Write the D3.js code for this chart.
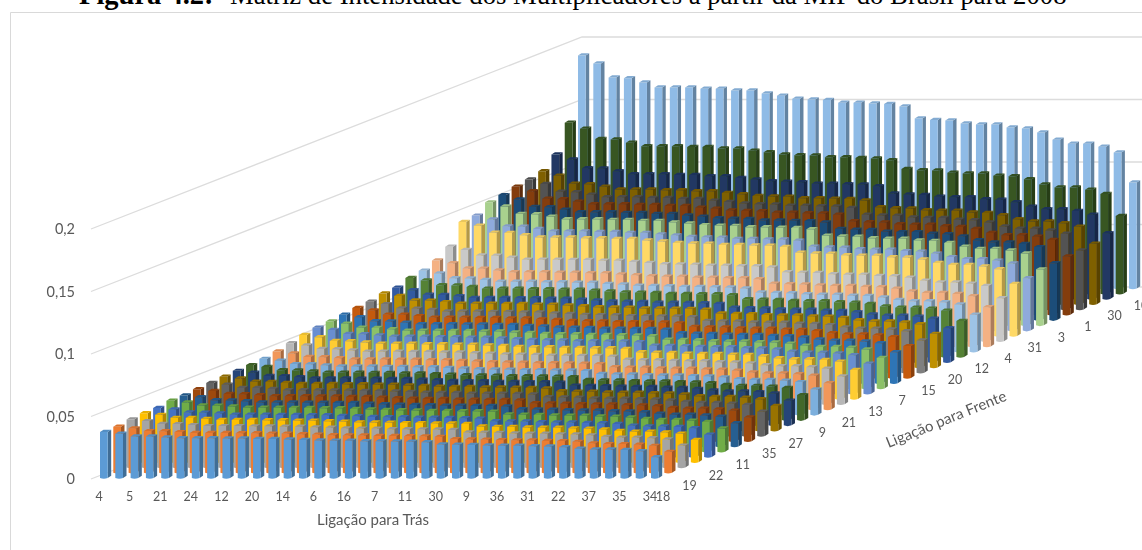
<!DOCTYPE html>
<html>
<head>
<meta charset="utf-8">
<style>
  html, body { margin: 0; padding: 0; background: #fff; overflow: hidden; }
  text { font-family: Lato, "Open Sans", sans-serif; fill: #595959; }
</style>
</head>
<body>
<script src="https://cdnjs.cloudflare.com/ajax/libs/d3/7.8.5/d3.min.js"></script>
<script>
const WIDTH = 1142;
const HEIGHT = 550;

// eixo de trás: so uma em cada duas categorias tem rotulo no grafico
const categoryLabels = ["4","","5","","21","","24","","12","","20","","14","","6","","16","","7","","11","","30","","9","","36","","31","","22","","37","","35","","34"];
const seriesLabels = ["18","","19","","22","","11","","35","","27","","9","","21","","13","","7","","15","","20","","12","","4","","31","","3","","1","","30","","10"];
const yTicks = [0, 500, 1000, 1500, 2000];
const yTickLabels = ["0", "0,05", "0,1", "0,15", "0,2"];

// cor de cada serie, da frente para o fundo
const seriesColors = ["#5b9bd5","#ed7d31","#a5a5a5","#ffc000","#4472c4","#70ad47",
  "#255e91","#9e480e","#636363","#997300","#264478","#43682b",
  "#7cafdd","#f1975a","#b7b7b7","#ffcd33","#698ed0","#8cc168",
  "#2e75b6","#c55a11","#7f7f7f","#bf9000","#335aa1","#548235",
  "#9dc3e6","#f4b183","#c9c9c9","#ffd966","#8faadc","#a9d18e",
  "#1f4e79","#843c0c","#525252","#7f6000","#203864","#385723","#8fbbe6"];

// valores, em decimos de milesimo (368 = 0,0368)
const serie00 = [368,355,333,332,325,318,318,318,316,316,313,313,308,305,300,298,298,294,294,292,291,287,269,266,265,261,259,259,254,253,247,235,229,229,224,215,167];
const serie01 = [368,355,333,332,325,318,318,318,316,316,313,313,308,305,300,298,298,294,294,292,291,287,269,266,265,261,259,259,254,253,247,235,229,229,224,215,167];
const serie02 = [384,371,348,347,339,331,331,331,329,329,326,326,321,318,313,311,311,306,306,305,304,300,280,278,277,272,270,270,265,264,257,245,239,239,234,224,175];
const serie03 = [392,379,355,354,347,338,338,338,336,336,333,333,328,325,319,318,317,313,313,311,310,306,286,283,283,278,276,276,271,269,263,250,244,244,239,229,178];
const serie04 = [392,379,355,354,347,338,338,338,336,336,333,333,328,325,319,318,317,313,313,311,310,306,286,283,283,278,276,276,271,269,263,250,244,244,239,229,178];
const serie05 = [408,394,370,368,361,352,352,352,350,350,347,347,341,338,333,331,330,326,326,324,323,319,298,295,294,289,287,287,282,280,273,261,254,254,248,238,186];
const serie06 = [408,394,370,368,361,352,352,352,350,350,347,347,341,338,333,331,330,326,326,324,323,319,298,295,294,289,287,287,282,280,273,261,254,254,248,238,186];
const serie07 = [416,402,377,376,368,359,359,359,357,357,354,354,348,344,339,337,337,332,332,330,329,325,304,301,300,295,293,293,287,286,279,266,259,259,253,243,189];
const serie08 = [424,410,384,383,375,366,366,366,364,364,360,360,355,351,346,344,343,338,338,337,336,331,310,307,306,300,298,298,293,291,284,271,264,264,258,248,193];
const serie09 = [432,417,391,390,382,373,373,373,371,371,367,367,362,358,352,350,349,345,345,343,342,337,315,312,311,306,304,304,299,297,289,276,269,269,263,252,197];
const serie10 = [436,421,395,394,385,376,376,376,374,374,371,371,365,361,355,354,353,348,348,346,345,341,318,315,314,309,307,307,301,300,292,279,271,271,266,255,198];
const serie11 = [440,425,399,397,389,380,380,380,378,378,374,374,368,364,359,357,356,351,351,349,348,344,321,318,317,312,310,310,304,302,295,281,274,274,268,257,200];
const serie12 = [448,433,406,405,396,387,387,387,384,384,381,381,375,371,365,363,362,358,358,356,355,350,327,324,323,317,315,315,310,308,300,286,279,279,273,262,204];
const serie13 = [464,448,420,419,410,400,400,400,398,398,394,394,388,384,378,376,375,370,370,368,367,362,339,335,335,329,327,327,321,319,311,296,289,289,283,271,211];
const serie14 = [488,471,442,441,431,421,421,421,419,419,415,415,408,404,398,396,395,389,389,387,386,381,356,353,352,346,344,344,337,335,327,312,304,304,297,285,222];
const serie15 = [512,495,464,462,453,442,442,442,439,439,435,435,429,424,417,415,414,409,409,407,406,400,374,370,369,362,360,360,354,352,343,327,318,318,312,299,233];
const serie16 = [528,510,478,477,467,456,456,456,453,453,449,449,442,437,430,428,427,421,421,419,418,412,385,382,381,374,372,372,365,363,354,337,328,328,322,308,240];
const serie17 = [536,518,486,484,474,463,463,463,460,460,456,456,449,444,437,435,434,428,428,426,425,419,391,388,386,379,377,377,370,368,359,343,333,333,326,313,244];
const serie18 = [548,529,496,495,484,473,473,473,470,470,466,466,459,454,447,444,443,437,437,435,434,428,400,396,395,388,386,386,379,376,367,350,341,341,334,320,249];
const serie19 = [560,541,507,506,495,483,483,483,480,480,476,476,469,464,456,454,453,447,447,445,444,437,409,405,404,396,394,394,387,385,375,358,348,348,341,327,255];
const serie20 = [568,549,515,513,502,490,490,490,487,487,483,483,475,470,463,461,460,453,453,451,450,444,415,411,410,402,400,400,392,390,381,363,353,353,346,332,258];
const serie21 = [592,572,536,535,523,511,511,511,508,508,503,503,496,490,482,480,479,472,472,470,469,462,432,428,427,419,417,417,409,407,397,378,368,368,361,346,269];
const serie22 = [596,576,540,538,527,514,514,514,511,511,507,507,499,493,486,483,482,476,476,473,472,465,435,431,430,422,420,420,412,409,399,381,371,371,363,348,271];
const serie23 = [632,611,573,571,559,545,545,545,542,542,537,537,529,523,515,513,511,504,504,502,501,494,461,457,456,447,445,445,437,434,423,404,393,393,385,369,288];
const serie24 = [648,626,587,585,573,559,559,559,556,556,551,551,542,537,528,526,524,517,517,515,513,506,473,469,467,459,456,456,448,445,434,414,403,403,395,378,295];
const serie25 = [688,665,623,621,608,594,594,594,590,590,585,585,576,570,561,558,557,549,549,546,545,537,502,497,496,487,484,484,475,473,461,440,428,428,419,402,313];
const serie26 = [756,730,685,683,668,652,652,652,649,649,643,643,633,626,616,613,612,603,603,600,599,590,552,547,545,535,532,532,522,519,507,483,470,470,460,442,344];
const serie27 = [912,881,826,824,806,787,787,787,782,782,775,775,763,755,743,740,738,728,728,724,722,712,666,659,658,646,642,642,630,627,611,583,567,567,555,533,415];
const serie28 = [920,889,834,831,813,794,794,794,789,789,782,782,770,762,750,746,744,734,734,730,729,719,672,665,663,651,648,648,636,632,616,588,572,572,560,537,419];
const serie29 = [984,951,892,889,870,849,849,849,844,844,836,836,824,815,802,798,796,785,785,781,779,769,718,711,709,697,693,693,680,676,659,629,612,612,599,575,448];
const serie30 = [1000,966,906,903,884,863,863,863,858,858,850,850,837,828,815,811,809,798,798,794,792,781,730,723,721,708,704,704,691,687,670,639,622,622,609,584,455];
const serie31 = [1024,989,928,925,905,884,884,884,879,879,870,870,857,848,835,830,828,817,817,813,811,800,748,740,738,725,721,721,708,703,686,654,637,637,624,598,466];
const serie32 = [1040,1005,942,939,919,898,898,898,892,892,884,884,870,861,848,843,841,830,830,826,824,812,759,752,750,736,732,732,719,714,697,665,647,647,633,607,473];
const serie33 = [1064,1028,964,961,941,918,918,918,913,913,904,904,891,881,867,863,861,849,849,845,843,831,777,769,767,753,749,749,735,731,713,680,662,662,648,621,484];
const serie34 = [1156,1117,1047,1044,1022,998,998,998,992,992,983,983,968,957,942,938,935,922,922,918,916,903,844,836,833,818,814,814,799,794,775,739,719,719,704,675,526];
const serie35 = [1368,1321,1239,1235,1209,1181,1181,1181,1174,1174,1163,1163,1145,1133,1115,1109,1107,1092,1092,1086,1083,1068,999,989,986,969,963,963,945,940,917,874,851,851,833,799,622];
const serie36 = [1864,1801,1689,1683,1648,1609,1609,1609,1599,1599,1584,1584,1560,1543,1519,1512,1508,1487,1487,1480,1476,1456,1361,1348,1344,1320,1312,1312,1288,1281,1249,1191,1159,1159,1135,1089,848];

const seriesValues = [serie00,serie01,serie02,serie03,serie04,serie05,serie06,serie07,serie08,serie09,
  serie10,serie11,serie12,serie13,serie14,serie15,serie16,serie17,serie18,serie19,
  serie20,serie21,serie22,serie23,serie24,serie25,serie26,serie27,serie28,serie29,
  serie30,serie31,serie32,serie33,serie34,serie35,serie36];

const svg = d3.select("body")
  .append("svg")
  .attr("width", WIDTH)
  .attr("height", HEIGHT);

const defs = svg.append("defs");
const soft = (id, dev) => defs.append("filter").attr("id", id)
  .attr("filterUnits", "userSpaceOnUse")
  .attr("x", 0).attr("y", 0).attr("width", WIDTH).attr("height", HEIGHT)
  .append("feGaussianBlur").attr("stdDeviation", dev);
soft("soft", 0.55);
soft("softText", 0.35);

const title = svg.append("text")
  .attr("y", 4)
  .style("font-family", "'Liberation Serif'")
  .style("fill", "#000");
title.append("tspan").attr("x", 79).style("font-weight", "bold").style("font-size", "28.5px").text("Figura 4.2:");
title.append("tspan").attr("x", 230).style("font-size", "26.7px").text("Matriz de Intensidade dos Multiplicadores a partir da MIP do Brasil para 2008");

// moldura
svg.append("path")
  .attr("d", "M10.5,550V12.5H1142")
  .attr("fill", "none")
  .attr("stroke", "#d9d9d9");

// projecao obliqua: categoria para a direita, serie para o fundo
const catIdx = d3.range(categoryLabels.length);
const serIdx = d3.range(seriesLabels.length);
const xCat = d3.scalePoint().domain(catIdx).range([100, 651]);
const xDepth = d3.scalePoint().domain(serIdx).range([0, 478]);
const yDepth = d3.scalePoint().domain(serIdx).range([0, -189.5]);
const yVal = d3.scaleLinear().domain([0, 2000]).range([0, 250]);
const baseY = 478;

// grades
const gridColor = "#dcdcdc";
const grid = svg.append("g").attr("fill", "none").attr("stroke", gridColor).attr("stroke-width", 1.3);
const wallLeft = 91;
const wallRight = xCat(0) + xDepth(36) + 4;
yTicks.forEach(t => {
  const yFront = baseY + 1 - yVal(t);
  const yBack = yFront + yDepth(36) - 2.5;
  grid.append("path").attr("d", d3.line()([[wallLeft, yFront], [wallRight, yBack], [WIDTH, yBack]]));
});

const labels = svg.append("g").attr("filter", "url(#softText)");

labels.append("g")
  .selectAll("text")
  .data(yTicks)
  .join("text")
  .attr("x", 75)
  .attr("y", d => baseY + 6 - yVal(d))
  .attr("text-anchor", "end")
  .style("font-size", "14.5px")
  .text((d, i) => yTickLabels[i]);

// barras
const frontW = 7.7;
const sideW = 3.5;
const sideH = 2.2;

function frontPath(x, y, top) {
  return `M${x},${top}L${x},${y}Q${x + frontW / 2},${y + 1.6} ${x + frontW},${y}L${x + frontW},${top}Z`;
}
function sidePath(x, y, top) {
  const r = x + frontW;
  return `M${r},${top}L${r},${y}L${r + sideW},${y - sideH}L${r + sideW},${top - sideH}Z`;
}
function topPath(x, top) {
  const r = x + frontW;
  return `M${x},${top}L${r},${top}L${r + sideW},${top - sideH}L${x + sideW},${top - sideH}Z`;
}

const barsGroup = svg.append("g").attr("filter", "url(#soft)");

// do fundo para a frente
serIdx.slice().reverse().forEach(s => {
  const color = d3.color(seriesColors[s]);
  const bars = barsGroup.append("g")
    .selectAll("g")
    .data(seriesValues[s])
    .join("g");

  const bx = (d, i) => xCat(i) + xDepth(s);
  const by = baseY + yDepth(s);

  bars.append("path")
    .attr("fill", color.darker(1).formatHex())
    .attr("d", (d, i) => sidePath(bx(d, i), by, by - yVal(d)));
  bars.append("path")
    .attr("fill", color.formatHex())
    .attr("d", (d, i) => frontPath(bx(d, i), by, by - yVal(d)));
  bars.append("path")
    .attr("fill", color.darker(0.25).formatHex())
    .attr("d", (d, i) => topPath(bx(d, i), by - yVal(d)));
});

// rotulos dos eixos
labels.append("g")
  .selectAll("text")
  .data(catIdx.filter(i => categoryLabels[i] !== ""))
  .join("text")
  .attr("x", i => xCat(i) - 1)
  .attr("y", 501)
  .attr("text-anchor", "middle")
  .style("font-size", "12.5px")
  .text(i => categoryLabels[i]);

labels.append("g")
  .selectAll("text")
  .data(serIdx.filter(s => seriesLabels[s] !== ""))
  .join("text")
  .attr("x", s => xCat(36) + xDepth(s) + 12)
  .attr("y", s => 501 + yDepth(s) * 1.01)
  .attr("text-anchor", "middle")
  .style("font-size", "12.5px")
  .text(s => seriesLabels[s]);

labels.append("text")
  .attr("x", 373)
  .attr("y", 525)
  .attr("text-anchor", "middle")
  .style("font-size", "15px")
  .text("Ligação para Trás");

labels.append("text")
  .attr("transform", "translate(948,424) rotate(-22)")
  .attr("text-anchor", "middle")
  .style("font-size", "15px")
  .text("Ligação para Frente");
</script>
</body>
</html>
